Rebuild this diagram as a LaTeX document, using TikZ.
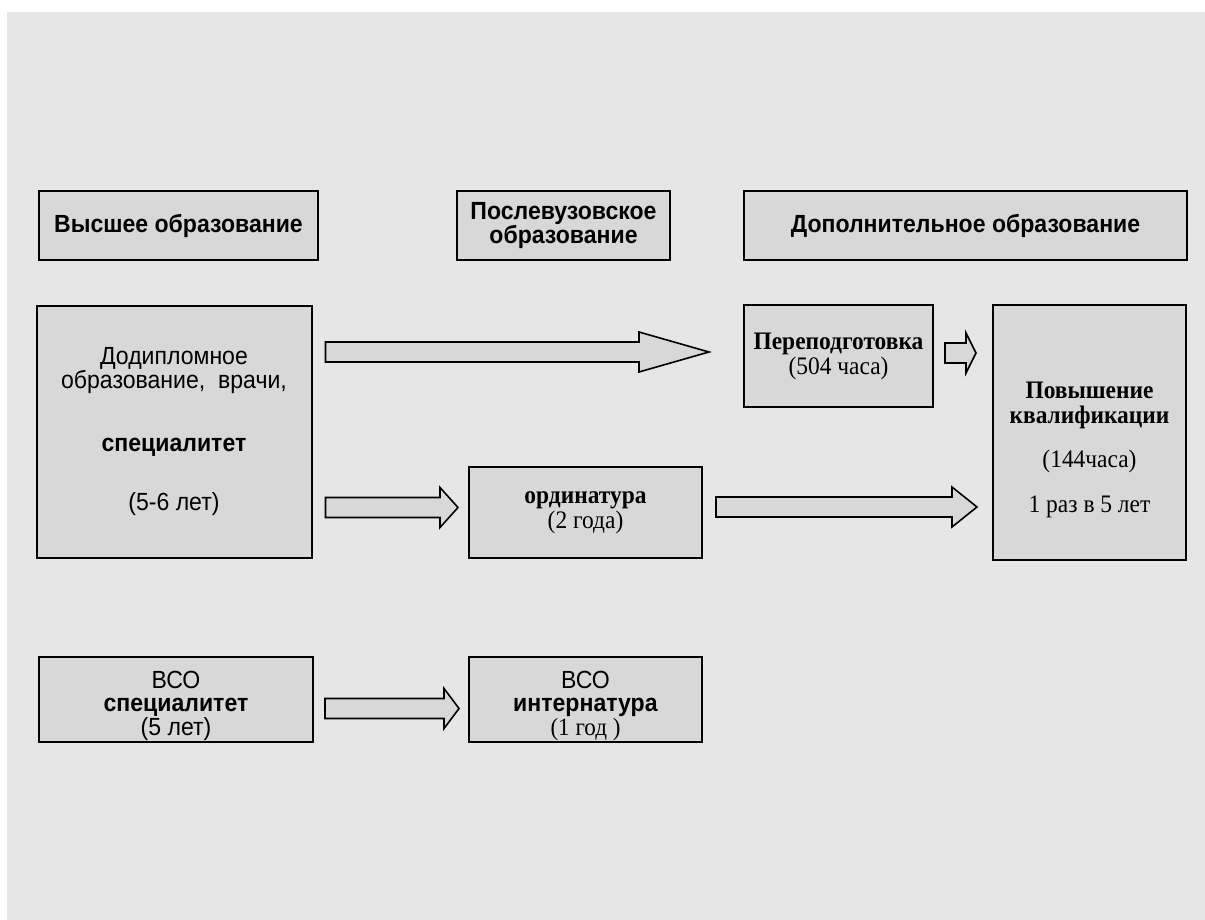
\documentclass[tikz,border=0pt]{standalone}
\usepackage{fontspec}
\setmainfont{Liberation Serif}[FakeStretch=0.93]
\setsansfont{Liberation Sans}[FakeStretch=0.93]
\usetikzlibrary{calc}
\definecolor{bgcol}{HTML}{E6E6E6}
\definecolor{boxfill}{HTML}{D8D8D8}
\tikzset{
  box/.style={draw=black, line width=2pt, fill=boxfill, align=center, inner sep=0pt, text=black},
  sanstxt/.style={font=\sffamily\fontsize{24.8}{24}\selectfont},
  hdrtxt/.style={font=\sffamily\bfseries\fontsize{24.8}{24}\selectfont},
  seriftxt/.style={font=\rmfamily\fontsize{25.2}{25}\selectfont},
  plain/.style={align=center, inner sep=0pt, text=black},
  barrow/.style={draw=black, line width=1.6pt, fill=boxfill, line join=miter},
}
\newcommand\blockarrow[3]{%
  \draw[barrow] let \p1=(#1), \p2=(#2) in
    (\x1,\y1+10pt) -- (\x2-#3pt,\y1+10pt) -- (\x2-#3pt,\y1+20pt) -- (\x2,\y1)
    -- (\x2-#3pt,\y1-20pt) -- (\x2-#3pt,\y1-10pt) -- (\x1,\y1-10pt) -- cycle;}
\begin{document}
\begin{tikzpicture}[x=1pt,y=-1pt]
\useasboundingbox (0,0) rectangle (1205,920);
\fill[white] (0,0) rectangle (1205,920);
\fill[bgcol] (7,12) rectangle (1205,920);

% headers
\node[box,hdrtxt,minimum width=279,minimum height=69] (h1) at (178.5,225.5) {Высшее образование};
\node[box,hdrtxt,minimum width=213,minimum height=69] (h2) at (563.5,225.5) {Послевузовское\\образование};
\node[box,hdrtxt,minimum width=443,minimum height=69] (h3) at (965.5,225.5) {Дополнительное образование};

% main boxes
\node[box,sanstxt,minimum width=275,minimum height=252] (big) at (174,432)
  {Додипломное\\образование,\ \ врачи,\\[39pt]\textbf{специалитет}\\[35pt](5-6 лет)};
\node[box,seriftxt,minimum width=189,minimum height=102] (pere) at (838.5,356)
  {\textbf{Переподготовка}\\(504 часа)};
\node[box,minimum width=193,minimum height=255] (pov) at (1089.5,432.5) {};
\node[plain,seriftxt] (povtxt) at (1089.5,450)
  {\textbf{Повышение}\\\textbf{квалификации}\\[19pt](144часа)\\[20pt]1 раз в 5 лет};
\node[box,seriftxt,minimum width=233,minimum height=91] (ord) at (585.5,512.5)
  {\textbf{ординатура}\\(2 года)};
\node[box,minimum width=274,minimum height=85] (vso1) at (176,699) {};
\node[plain,sanstxt] (vso1t) at (176,705.5)
  {ВСО\\[-0.5pt]\textbf{специалитет}\\[-0.5pt](5 лет)};
\node[box,minimum width=233,minimum height=85] (vso2) at (585.5,699) {};
\node[plain,sanstxt] (vso2t) at (585.5,705.5)
  {ВСО\\[-0.5pt]\textbf{интернатура}\\[-0.5pt]{\rmfamily(1 год )}};

% arrow end points
\path (big.east |- 0,352) ++(13,0) coordinate (a1s);
\path (pere.west |- 0,352) ++(-34,0) coordinate (a1e);
\path (big.east |- 0,507.5) ++(13,0) coordinate (a2s);
\path (ord.west |- 0,507.5) ++(-10,0) coordinate (a2e);
\path (ord.east |- 0,507) ++(13,0) coordinate (a3s);
\path (pov.west |- 0,507) ++(-15,0) coordinate (a3e);
\path (pere.east |- 0,353) ++(11,0) coordinate (a4s);
\path (pov.west |- 0,353) ++(-16,0) coordinate (a4e);
\path (vso1.east |- 0,708.5) ++(11,0) coordinate (a5s);
\path (vso2.west |- 0,708.5) ++(-9,0) coordinate (a5e);

\blockarrow{a1s}{a1e}{70}
\blockarrow{a2s}{a2e}{18}
\blockarrow{a3s}{a3e}{25}
\blockarrow{a4s}{a4e}{10}
\blockarrow{a5s}{a5e}{15}
\end{tikzpicture}
\end{document}
